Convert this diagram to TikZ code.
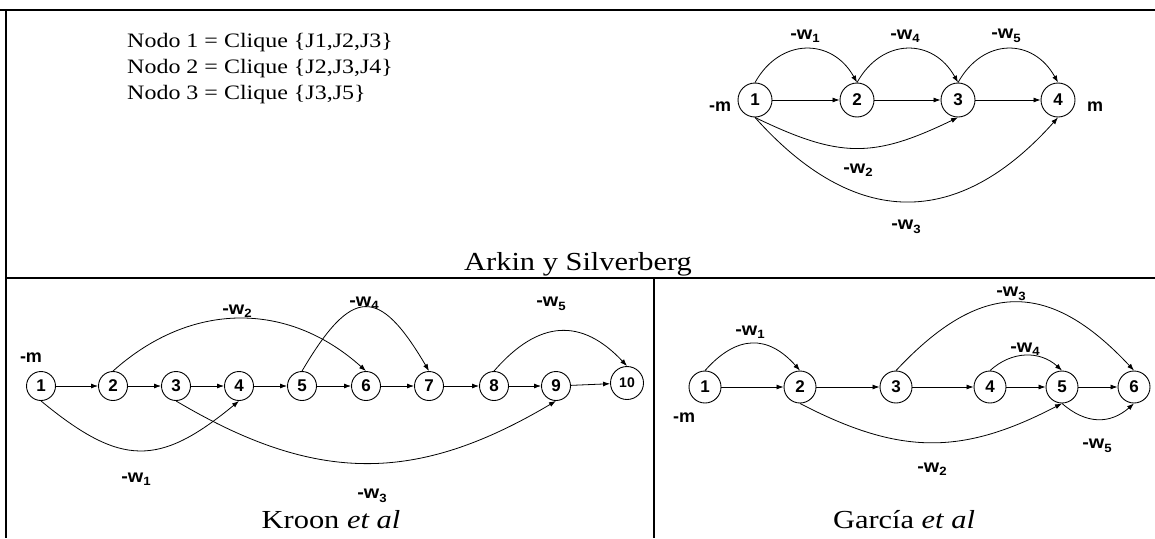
\documentclass[tikz,border=0pt]{standalone}
\usepackage{fontspec}
\setmainfont{Liberation Serif}
\setsansfont{Liberation Sans}
\usetikzlibrary{arrows.meta}
\tikzset{
  nd/.style={circle,draw,line width=0.9pt,minimum size=34pt,inner sep=0pt,font=\sffamily\bfseries\fontsize{17}{17}\selectfont},
  kn/.style={nd,minimum size=29pt},
  gn/.style={nd,minimum size=32pt},
  arr/.style={line width=0.8pt,-{Latex[length=7pt,width=5pt]}},
  lbl/.style={font=\sffamily\bfseries\fontsize{18}{18}\selectfont,inner sep=0pt},
  captxt/.style={font=\fontsize{26}{26}\selectfont,inner sep=0pt},
  cltxt/.style={font=\fontsize{20.5}{20.5}\selectfont,inner sep=0pt},
  hline/.style={line width=2pt},
  vline/.style={line width=1.2pt},
  vlineb/.style={line width=2.2pt}
}
\newcommand{\sx}[1]{\scalebox{1.17}[1]{#1}}
\newcommand{\wl}[1]{\scalebox{1.1}[1]{-w\raisebox{-3.5pt}{\fontsize{12}{12}\selectfont #1}}}
\begin{document}
\begin{tikzpicture}[x=1pt,y=-1pt]
\useasboundingbox (0,0) rectangle (1155,538);
% frame
\coordinate (tl) at (0,10); \coordinate (tr) at (1155,10);
\coordinate (ml) at (6,278); \coordinate (mr) at (1155,278);
\coordinate (lt) at (6,10); \coordinate (lm) at (6,278); \coordinate (lb) at (6,538);
\coordinate (dt) at (654,278); \coordinate (db) at (654,538);
\draw[hline] (tl) -- (tr);
\draw[hline] (ml) -- (mr);
\draw[vline] (lt) -- (lm);
\draw[vlineb] (lm) -- (lb);
\draw[hline] (dt) -- (db);
% top text
\node[cltxt,anchor=base west] (n1) at (127,47) {\sx{Nodo 1 = Clique \{J1,J2,J3\}}};
\node[cltxt,anchor=base west] (n2) at (127,73) {\sx{Nodo 2 = Clique \{J2,J3,J4\}}};
\node[cltxt,anchor=base west] (n3) at (127,99) {\sx{Nodo 3 = Clique \{J3,J5\}}};
\node[captxt,anchor=base] (arkin) at (578,270) {\sx{Arkin y Silverberg}};
% top graph
\node[nd] (t1) at (755,100) {1};
\node[nd] (t2) at (857,100) {2};
\node[nd] (t3) at (958,100) {3};
\node[nd] (t4) at (1058,100) {4};
\draw[arr] (t1) -- (t2);
\draw[arr] (t2) -- (t3);
\draw[arr] (t3) -- (t4);
\draw[arr] (t1.north) .. controls +(25,-45) and +(-25,-45) .. (t2.north);
\draw[arr] (t2.north) .. controls +(25,-45) and +(-25,-45) .. (t3.north);
\draw[arr] (t3.north) .. controls +(25,-45) and +(-25,-45) .. (t4.north);
\draw[arr] (t1.south) .. controls +(85,41) and +(-85,41) .. (t3.south);
\draw[arr] (t1.south) .. controls +(100,112) and +(-100,112) .. (t4.south);
\node[lbl] (tm) at (720,107) {-m};
\node[lbl] (tmm) at (1095,107) {m};
\node[lbl] (tw1) at (805,36) {\wl{1}};
\node[lbl] (tw4) at (905,36) {\wl{4}};
\node[lbl] (tw5) at (1006,36) {\wl{5}};
\node[lbl] (tw2) at (858,170) {\wl{2}};
\node[lbl] (tw3) at (906,227) {\wl{3}};
% Kroon
\node[kn] (k1) at (41,386) {1};
\node[kn] (k2) at (113,386) {2};
\node[kn] (k3) at (176,386) {3};
\node[kn] (k4) at (239,386) {4};
\node[kn] (k5) at (302,386) {5};
\node[kn] (k6) at (366,386) {6};
\node[kn] (k7) at (429,386) {7};
\node[kn] (k8) at (494,386) {8};
\node[kn] (k9) at (556,386) {9};
\node[kn,minimum size=33pt,font=\sffamily\bfseries\fontsize{14}{14}\selectfont] (k10) at (627,383) {10};
\foreach \a/\b in {k1/k2,k2/k3,k3/k4,k4/k5,k5/k6,k6/k7,k7/k8,k8/k9,k9/k10}
  \draw[arr] (\a) -- (\b);
\draw[arr] (k2.north) .. controls +(78,-70) and +(-78,-70) .. (k6.north);
\draw[arr] (k5.north) .. controls +(50,-85) and +(-50,-85) .. (k7.north);
\draw[arr] (k8.north) .. controls +(45,-52) and +(-45,-48) .. (k10.north);
\draw[arr] (k1.south) .. controls +(80,66) and +(-80,66) .. (k4.south);
\draw[arr] (k3.south) .. controls +(140,83) and +(-140,83) .. (k9.south);
\node[lbl] (km) at (31,358) {-m};
\node[lbl] (kw2) at (237,311) {\wl{2}};
\node[lbl] (kw4) at (364,303) {\wl{4}};
\node[lbl] (kw5) at (551,304) {\wl{5}};
\node[lbl] (kw1) at (136,479) {\wl{1}};
\node[lbl] (kw3) at (372,496) {\wl{3}};
\node[captxt,anchor=base] (kroon) at (331,528) {\sx{Kroon \textit{et al}}};
% Garcia
\node[gn] (g1) at (705,387) {1};
\node[gn] (g2) at (800,387) {2};
\node[gn] (g3) at (896,387) {3};
\node[gn] (g4) at (990,387) {4};
\node[gn] (g5) at (1062,387) {5};
\node[gn] (g6) at (1134,387) {6};
\foreach \a/\b in {g1/g2,g2/g3,g3/g4,g4/g5,g5/g6}
  \draw[arr] (\a) -- (\b);
\draw[arr] (g1.north) .. controls +(32,-36) and +(-32,-36) .. (g2.north);
\draw[arr] (g3.north) .. controls +(85,-91) and +(-85,-91) .. (g6.north);
\draw[arr] (g4.north) .. controls +(22,-20) and +(-22,-20) .. (g5.north);
\draw[arr] (g2.south) .. controls +(100,52) and +(-100,52) .. (g5.south);
\draw[arr] (g5.south) .. controls +(24,21) and +(-24,21) .. (g6.south);
\node[lbl] (gm) at (684,418) {-m};
\node[lbl] (gw1) at (750,332) {\wl{1}};
\node[lbl] (gw3) at (1011,294) {\wl{3}};
\node[lbl] (gw4) at (1025,349) {\wl{4}};
\node[lbl] (gw5) at (1097,446) {\wl{5}};
\node[lbl] (gw2) at (932,469) {\wl{2}};
\node[captxt,anchor=base] (garcia) at (904,528) {\sx{García \textit{et al}}};
\end{tikzpicture}
\end{document}
